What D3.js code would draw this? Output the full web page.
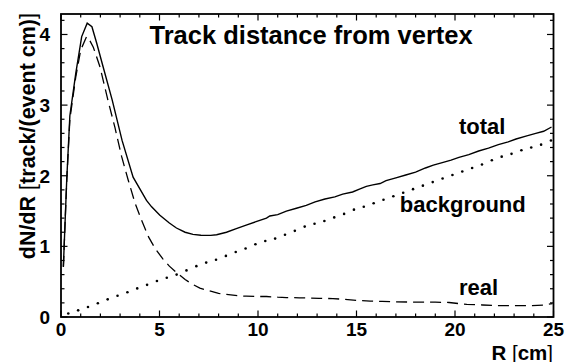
<!DOCTYPE html>
<html>
<head>
<meta charset="utf-8">
<script src="https://cdn.jsdelivr.net/npm/d3@7"></script>
<style>
  html, body { margin: 0; padding: 0; background: #fff; }
  svg { display: block; }
  text { font-family: "Liberation Sans", Arial, Helvetica, sans-serif; fill: #000; }
</style>
</head>
<body>
<svg id="chart" width="571" height="362"></svg>
<script>
// ---- data ----
const totalR = [0.12,0.29,0.45,0.75,1.05,1.33,1.57,1.81,2.14,2.6,3.1,3.66,4.34,4.6,5.02,5.5,5.86,6.3,6.7,7.1,7.6,7.9,8.4,8.9,9.4,9.9,10.43,10.6,11.0,11.44,11.95,12.45,12.9,13.4,13.9,14.3,14.8,15.15,15.5,15.83,16.2,16.5,17.0,17.5,18.0,18.5,18.9,19.4,19.8,20.2,20.7,21.2,21.7,22.2,22.7,23.1,23.6,24.1,24.5,24.9];
const totalV = [0.71,1.94,2.85,3.45,3.97,4.16,4.11,3.88,3.54,3.07,2.5,1.98,1.65,1.56,1.44,1.33,1.26,1.2,1.17,1.157,1.155,1.165,1.2,1.25,1.3,1.35,1.40,1.43,1.45,1.5,1.54,1.58,1.63,1.67,1.70,1.74,1.77,1.81,1.85,1.87,1.89,1.93,1.97,2.01,2.05,2.11,2.15,2.19,2.22,2.26,2.30,2.35,2.39,2.44,2.48,2.52,2.56,2.60,2.63,2.69];

const realR = [0.12,0.29,0.45,0.75,1.0,1.3,1.45,1.64,1.98,2.4,2.74,3.08,3.41,3.75,4.09,4.45,4.8,5.18,5.5,5.86,6.3,6.7,7.05,7.4,8.0,8.4,9.0,9.4,10.0,10.43,11.0,11.44,12.1,12.5,13.1,13.8,14.4,15.0,15.7,16.3,17.0,18.0,19.0,19.7,20.2,20.6,21.4,22.2,23.0,23.9,24.5,24.95];
const realV = [0.71,1.92,2.8,3.4,3.78,3.97,3.92,3.82,3.54,3.05,2.68,2.27,1.94,1.62,1.37,1.13,0.96,0.82,0.72,0.63,0.53,0.46,0.41,0.38,0.335,0.32,0.30,0.295,0.29,0.29,0.28,0.275,0.272,0.27,0.265,0.26,0.25,0.236,0.225,0.22,0.215,0.21,0.21,0.205,0.19,0.18,0.17,0.16,0.16,0.16,0.17,0.19];

const bgR = [0.37,0.87,1.37,1.87,2.37,2.87,3.37,3.87,4.37,4.87,5.37,5.87,6.37,6.87,7.37,7.87,8.37,8.87,9.37,9.87,10.37,10.87,11.37,11.87,12.37,12.87,13.37,13.87,14.37,14.87,15.37,15.87,16.37,16.87,17.37,17.87,18.37,18.87,19.37,19.87,20.37,20.87,21.37,21.87,22.37,22.87,23.37,23.87,24.37,24.87];
const bgV = [0.05,0.094,0.142,0.194,0.25,0.30,0.35,0.405,0.455,0.51,0.555,0.60,0.66,0.72,0.77,0.81,0.865,0.92,0.97,1.03,1.075,1.11,1.165,1.22,1.28,1.32,1.36,1.41,1.46,1.52,1.56,1.61,1.66,1.71,1.76,1.81,1.86,1.91,1.96,2.01,2.06,2.11,2.16,2.22,2.27,2.31,2.36,2.40,2.44,2.50];

const xMajor = [0,5,10,15,20,25];
const yMajor = [0,1,2,3,4];
const titleText = "Track distance from vertex";
const curveLabels = [
  {text: "total", r: 20.2, v: 2.59},
  {text: "background", r: 17.2, v: 1.48},
  {text: "real", r: 20.2, v: 0.31}
];

// ---- layout ----
const svg = d3.select("#chart");
const x = d3.scaleLinear().domain([0, 25]).range([61, 553.5]);
const y = d3.scaleLinear().domain([0, 4.29]).range([317, 14]);
const X0 = x(0), X1 = x(25), Y0 = y(0), Y1 = y(4.29);

const g = svg.append("g");

// ticks (inward, all four sides)
const xMinor = d3.range(0, 25.001, 1);
const yMinor = d3.range(0, 4.29, 0.2);
const isMajX = d => xMajor.some(m => Math.abs(m - d) < 1e-6);
const isMajY = d => yMajor.some(m => Math.abs(m - d) < 1e-6);
const tk = g.append("g").attr("stroke", "#000").attr("stroke-width", 1.2);
xMinor.forEach(d => {
  const L = isMajX(d) ? 6.5 : 3.5;
  tk.append("line").attr("x1", x(d)).attr("x2", x(d)).attr("y1", Y0).attr("y2", Y0 - L);
  tk.append("line").attr("x1", x(d)).attr("x2", x(d)).attr("y1", Y1).attr("y2", Y1 + L);
});
yMinor.forEach(d => {
  const L = isMajY(d) ? 6.5 : 3.5;
  tk.append("line").attr("y1", y(d)).attr("y2", y(d)).attr("x1", X0).attr("x2", X0 + L);
  tk.append("line").attr("y1", y(d)).attr("y2", y(d)).attr("x1", X1).attr("x2", X1 - L);
});

// frame
g.append("rect").attr("x", X0).attr("y", Y1).attr("width", X1 - X0).attr("height", Y0 - Y1)
  .attr("fill", "none").attr("stroke", "#000").attr("stroke-width", 1.8);

// tick labels
g.selectAll(".xl").data(xMajor).enter().append("text")
  .attr("x", d => x(d)).attr("y", 336).attr("text-anchor", "middle")
  .attr("font-size", 19).attr("font-weight", "bold").text(d => d);
g.selectAll(".yl").data(yMajor).enter().append("text")
  .attr("x", 50).attr("y", d => y(d)).attr("dy", "0.36em").attr("text-anchor", "end")
  .attr("font-size", 19).attr("font-weight", "bold").text(d => d);

// curves
const clip = svg.append("clipPath").attr("id", "clip").append("rect")
  .attr("x", X0).attr("y", Y1).attr("width", X1 - X0).attr("height", Y0 - Y1);
const plot = g.append("g").attr("clip-path", "url(#clip)");
const line = d3.line().x(d => x(d[0])).y(d => y(d[1]));

plot.append("path").datum(d3.zip(realR, realV)).attr("d", line)
  .attr("fill", "none").attr("stroke", "#000").attr("stroke-width", 1.3)
  .attr("stroke-dasharray", "11,6");
plot.append("path").datum(d3.zip(totalR, totalV)).attr("d", line)
  .attr("fill", "none").attr("stroke", "#000").attr("stroke-width", 1.4);
plot.selectAll(".bg").data(d3.zip(bgR, bgV)).enter().append("circle")
  .attr("cx", d => x(d[0])).attr("cy", d => y(d[1])).attr("r", 1.3).attr("fill", "#000");

// curve labels
g.selectAll(".cl").data(curveLabels).enter().append("text")
  .attr("x", d => x(d.r)).attr("y", d => y(d.v))
  .attr("font-size", 22).attr("font-weight", "bold").text(d => d.text);

// title
g.append("text").attr("x", 149.5).attr("y", 43.5)
  .attr("font-size", 25.5).attr("font-weight", "bold").text(titleText);

// x axis title
const xt = g.append("text").attr("x", 553).attr("y", 359.5).attr("text-anchor", "end")
  .attr("font-size", 20.5).attr("font-weight", "bold");
xt.append("tspan").text("R ");
xt.append("tspan").attr("font-weight", "normal").text("[");
xt.append("tspan").text("cm");
xt.append("tspan").attr("font-weight", "normal").text("]");

// y axis title
const yt = g.append("text").attr("transform", "translate(35,13) rotate(-90)")
  .attr("text-anchor", "end").attr("font-size", 21.5).attr("font-weight", "bold");
yt.append("tspan").text("dN/dR ");
yt.append("tspan").attr("font-weight", "normal").text("[");
yt.append("tspan").text("track/(event cm)");
yt.append("tspan").attr("font-weight", "normal").text("]");
</script>
</body>
</html>
